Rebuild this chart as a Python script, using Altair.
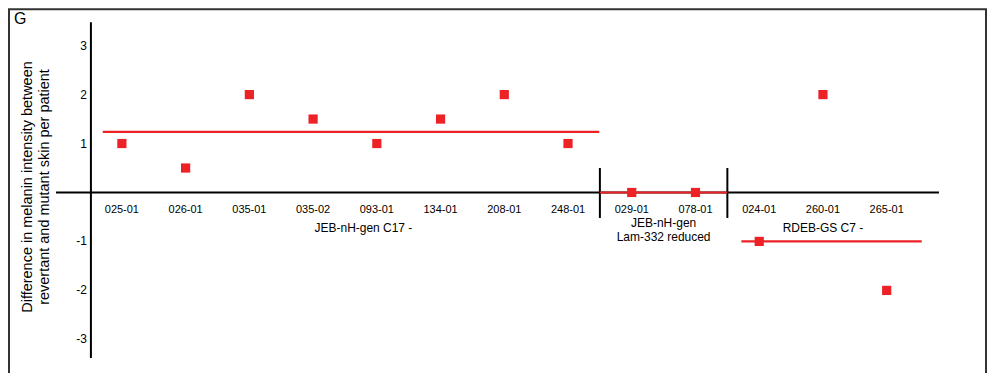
import altair as alt
import pandas as pd

# ---- data ----
patients = ["025-01", "026-01", "035-01", "035-02", "093-01", "134-01", "208-01",
            "248-01", "029-01", "078-01", "024-01", "260-01", "265-01"]
values = [1, 0.5, 2, 1.5, 1, 1.5, 2, 1, 0, 0, -1, 2, -2]
group_names = ["JEB-nH-gen C17 -", "JEB-nH-gen\nLam-332 reduced", "RDEB-GS C7 -"]
group_centers = [3.79, 8.5, 11.0]
group_label_v = [-0.72, -0.62, -0.72]
group_means = [1.24, 0.0, -1.0]
group_start = [-0.30, 7.5, 9.72]
group_end = [7.49, 9.5, 12.55]
separators = [7.5, 9.5]
y_ticks = [3, 2, 1, -1, -2, -3]

W, H = 980, 365
RED = "#ec2227"

xs = alt.Scale(domain=[-1.787, 13.574], nice=False, zero=False)
ys = alt.Scale(domain=[-3.684, 3.765], nice=False, zero=False)
X = lambda f: alt.X(f, type="quantitative", scale=xs, axis=None)
Y = lambda f: alt.Y(f, type="quantitative", scale=ys, axis=None)

pts = pd.DataFrame({"i": list(range(len(patients))), "v": values, "p": patients,
                    "lv": [-0.357] * len(patients)})
grp = pd.DataFrame({"name": group_names, "c": group_centers, "lv": group_label_v,
                    "m": group_means, "s": group_start, "e": group_end})
sep = pd.DataFrame({"x": separators, "a": [0.5] * 2, "b": [-0.52] * 2})
tk = pd.DataFrame({"v": y_ticks, "x": [-0.549] * len(y_ticks),
                   "t": [str(t) for t in y_ticks]})
zero = pd.DataFrame({"a": [-1.034], "b": [12.82], "v": [0]})
yaxis = pd.DataFrame({"x": [-0.486], "a": [3.48], "b": [-3.38]})

frame = alt.Chart(pd.DataFrame({"k": [0]})).mark_rect(
    fill=None, stroke="#333333", strokeWidth=2).encode(
    x=alt.value(1), x2=alt.value(W - 1), y=alt.value(1), y2=alt.value(H + 10))

zero_line = alt.Chart(zero).mark_rule(color="black", strokeWidth=2).encode(
    x=X("a"), x2="b", y=Y("v"))
y_line = alt.Chart(yaxis).mark_rule(color="black", strokeWidth=2).encode(
    x=X("x"), y=Y("a"), y2="b")
sep_lines = alt.Chart(sep).mark_rule(color="black", strokeWidth=2).encode(
    x=X("x"), y=Y("a"), y2="b")
mean_lines = alt.Chart(grp).mark_rule(color=RED, strokeWidth=2.2).encode(
    x=X("s"), x2="e", y=Y("m"))
points = alt.Chart(pts).mark_square(size=85, color=RED, opacity=1).encode(
    x=X("i"), y=Y("v"))
cat_labels = alt.Chart(pts).mark_text(fontSize=11, font="Liberation Sans",
                                      color="black").encode(
    x=X("i"), y=Y("lv"), text="p")
grp_labels = alt.Chart(grp).mark_text(fontSize=12, font="Liberation Sans",
                                      color="black", lineBreak="\n",
                                      baseline="top", dy=-5).encode(
    x=X("c"), y=Y("lv"), text="name")
tick_labels = alt.Chart(tk).mark_text(fontSize=12, font="Liberation Sans",
                                      align="right", color="black").encode(
    x=X("x"), y=Y("v"), text="t")
ytitle = alt.Chart(pd.DataFrame({"t": ["Difference in melanin intensity between\nrevertant and mutant skin per patient"]})).mark_text(
    fontSize=14.5, font="Liberation Sans", angle=270, lineBreak="\n",
    color="black", lineHeight=17).encode(
    x=alt.value(20), y=alt.value(179), text="t")
letter = alt.Chart(pd.DataFrame({"t": ["G"]})).mark_text(
    fontSize=16, font="Liberation Sans", color="black", baseline="top",
    align="left").encode(
    x=alt.value(6), y=alt.value(3), text="t")

chart = alt.layer(frame, zero_line, y_line, sep_lines, mean_lines, points,
                  cat_labels, grp_labels, tick_labels, ytitle, letter).properties(
    width=W, height=H, padding=0, autosize=alt.AutoSizeParams(type="none")
).configure_view(stroke=None)

chart.save("out.html", embed_options={"renderer": "svg", "actions": False})
